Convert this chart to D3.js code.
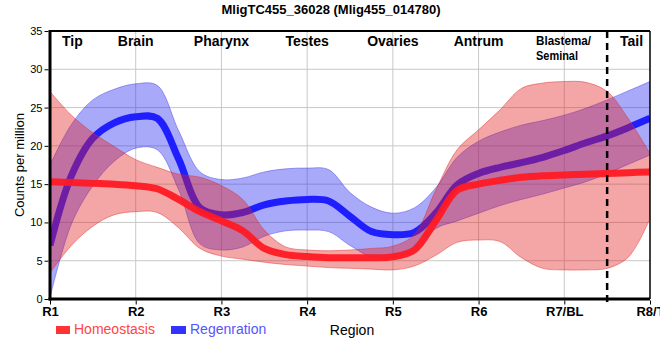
<!DOCTYPE html>
<html><head><meta charset="utf-8">
<script src="https://cdn.jsdelivr.net/npm/d3@7"></script>
<style>
body{margin:0;background:#fff;}
text{font-family:"Liberation Sans Narrow","Arial Narrow","Liberation Sans",Arial,sans-serif;}
</style></head>
<body><svg id="c" width="660" height="360"></svg>
<script>
// region positions (1 = R1 ... 8 = R8/T), sampled every quarter region
const pos = [1,1.25,1.5,1.75,2,2.25,2.5,2.75,3,3.25,3.5,3.75,4,4.25,4.5,4.75,5,5.25,5.5,5.75,6,6.25,6.5,6.75,7,7.25,7.5,7.75,8];
const regionTicks = ["R1","R2","R3","R4","R5","R6","R7/BL","R8/T"];
const yTicks = [0,5,10,15,20,25,30,35];
const tissues = ["Tip","Brain","Pharynx","Testes","Ovaries","Antrum","Blastema/","Tail"];

const homeoMean = [15.3,15.2,15.1,15.0,14.8,14.4,13.0,11.4,10.2,8.9,6.6,5.8,5.55,5.4,5.4,5.4,5.5,6.4,10.2,14.2,15.0,15.5,15.9,16.1,16.2,16.3,16.4,16.5,16.6];
const homeoHi   = [27.1,24.0,21.7,19.9,18.2,17.2,16.3,15.9,14.8,13.0,9.0,6.8,6.4,6.3,6.4,6.6,6.9,8.4,14.2,19.5,22.1,24.7,27.5,28.2,28.4,28.3,27.1,23.5,19.0];
const homeoLo   = [3.4,7.0,9.5,11.0,11.4,11.3,9.3,6.6,5.6,5.2,4.8,4.5,4.3,4.1,4.0,3.9,3.8,4.3,5.7,7.4,7.7,7.5,5.4,4.0,3.8,3.8,4.0,5.5,10.5];

const regenMean = [7.0,16.1,21.0,23.0,23.8,23.6,18.3,11.9,11.0,11.3,12.3,12.8,13.0,12.8,10.8,8.8,8.4,8.7,11.2,14.9,16.4,17.2,17.8,18.5,19.4,20.4,21.3,22.4,23.6];
const regenHi   = [17.5,22.8,26.0,27.4,28.1,27.9,22.0,16.6,15.6,15.8,16.6,17.0,17.1,16.9,13.9,12.0,11.2,11.9,14.5,18.5,20.6,21.8,22.7,23.3,24.0,24.9,26.0,27.2,28.4];
const regenLo   = [0.2,9.8,14.8,18.0,19.7,19.5,14.3,7.2,6.4,6.8,8.2,8.9,9.0,8.8,7.0,5.5,5.4,6.3,9.2,10.2,11.2,12.2,13.0,13.7,14.5,15.3,16.4,17.6,18.8];

const svg = d3.select("#c");
const L=50, R=650, T=31, B=299;
const x = d3.scaleLinear().domain([1,8]).range([L,R]);
const y = d3.scaleLinear().domain([0,35]).range([B,T]);

svg.append("defs").append("clipPath").attr("id","clip").append("rect")
  .attr("x",L).attr("y",T).attr("width",R-L).attr("height",B-T);

// grid
const g = svg.append("g");
g.selectAll("line.h").data(yTicks.slice(1,-1)).join("line")
  .attr("x1",L).attr("x2",R).attr("y1",d=>y(d)).attr("y2",d=>y(d))
  .attr("stroke","#c8c8c8").attr("stroke-width",1);
g.selectAll("line.v").data(d3.range(2,8)).join("line")
  .attr("y1",T).attr("y2",B).attr("x1",d=>x(d)).attr("x2",d=>x(d))
  .attr("stroke","#c8c8c8").attr("stroke-width",1);

const plot = svg.append("g").attr("clip-path","url(#clip)");
const curve = d3.curveCatmullRom.alpha(0.5);
const area = (lo,hi)=>d3.area().x((d,i)=>x(pos[i])).y0((d,i)=>y(lo[i])).y1((d,i)=>y(hi[i])).curve(curve)(pos);
const line = (m)=>d3.line().x((d,i)=>x(pos[i])).y((d,i)=>y(m[i])).curve(curve)(pos);

plot.append("path").attr("d",area(regenLo,regenHi))
  .attr("fill","rgb(40,40,240)").attr("fill-opacity",0.4)
  .attr("stroke","rgb(60,60,230)").attr("stroke-opacity",0.45).attr("stroke-width",1);
plot.append("path").attr("d",line(regenMean))
  .attr("fill","none").attr("stroke","rgb(30,30,255)").attr("stroke-width",7);
plot.append("path").attr("d",area(homeoLo,homeoHi))
  .attr("fill","rgb(227,30,30)").attr("fill-opacity",0.4)
  .attr("stroke","rgb(220,40,40)").attr("stroke-opacity",0.45).attr("stroke-width",1);
plot.append("path").attr("d",line(homeoMean))
  .attr("fill","none").attr("stroke","rgb(255,25,35)").attr("stroke-opacity",0.95).attr("stroke-width",7);

// frame
svg.append("line").attr("x1",L).attr("x2",R).attr("y1",T).attr("y2",T).attr("stroke","#000").attr("stroke-width",2);
svg.append("line").attr("x1",R).attr("x2",R).attr("y1",T).attr("y2",B).attr("stroke","#000").attr("stroke-width",1.5);
svg.append("line").attr("x1",L).attr("x2",L).attr("y1",T-1).attr("y2",B+1.5).attr("stroke","#000").attr("stroke-width",3);
svg.append("line").attr("x1",L-1.5).attr("x2",R).attr("y1",B).attr("y2",B).attr("stroke","#000").attr("stroke-width",3);

// dashed divider
svg.append("line").attr("x1",x(7.5)).attr("x2",x(7.5)).attr("y1",T).attr("y2",B+6)
  .attr("stroke","#000").attr("stroke-width",2.5).attr("stroke-dasharray","7,5");

// y axis
const ya = svg.append("g").attr("transform",`translate(${L-1.5},0)`)
  .call(d3.axisLeft(y).tickValues(yTicks).tickSize(4).tickPadding(2));
ya.select(".domain").remove();
ya.selectAll("line").attr("stroke","#000");
ya.selectAll("text").attr("font-size",11).attr("fill","#000").style("font-family","'Liberation Sans',Arial,sans-serif");

// x axis
const xa = svg.append("g").attr("transform",`translate(0,${B+1.5})`)
  .call(d3.axisBottom(x).tickValues(d3.range(1,9)).tickFormat((d,i)=>regionTicks[i]).tickSize(4).tickPadding(2));
xa.select(".domain").remove();
xa.selectAll("line").attr("stroke","#000");
xa.selectAll("text").attr("font-size",13).attr("font-weight","bold").attr("fill","#000");

// tissue labels
const tl = svg.append("g").attr("font-size",14).attr("font-weight","bold").attr("fill","#000");
tl.append("text").attr("x",x(1)+12).attr("y",46).attr("text-anchor","start").text(tissues[0]);
[1,2,3,4,5].forEach(i=>{
  tl.append("text").attr("x",x(i+1)).attr("y",46).attr("text-anchor","middle").text(tissues[i]);
});
tl.append("text").attr("x",536).attr("y",45).attr("text-anchor","start").attr("font-size",13)
  .attr("textLength",55).attr("lengthAdjust","spacingAndGlyphs").text(tissues[6]);
tl.append("text").attr("x",536).attr("y",60).attr("text-anchor","start").attr("font-size",13)
  .attr("textLength",42).attr("lengthAdjust","spacingAndGlyphs").text("Seminal");
tl.append("text").attr("x",(x(7.5)+x(8))/2+3).attr("y",46).attr("text-anchor","middle").text(tissues[7]);

// title
svg.append("text").attr("x",331).attr("y",14).attr("text-anchor","middle")
  .attr("font-size",13).attr("font-weight","bold").text("MligTC455_36028 (Mlig455_014780)");

// y title
svg.append("text").attr("transform",`translate(24,${(T+B)/2}) rotate(-90)`).attr("text-anchor","middle")
  .attr("font-size",13).style("font-family","'Liberation Sans',Arial,sans-serif").text("Counts per million");

// x title
svg.append("text").attr("x",352).attr("y",335).attr("text-anchor","middle").attr("font-size",14).text("Region");

// legend
const leg = svg.append("g");
leg.append("rect").attr("x",56).attr("y",326).attr("width",14).attr("height",8).attr("fill","#ff3333");
leg.append("text").attr("x",74).attr("y",334).attr("font-size",14).attr("fill","#ff4444").text("Homeostasis");
leg.append("rect").attr("x",171).attr("y",326).attr("width",15).attr("height",8).attr("fill","#3333ff");
leg.append("text").attr("x",190).attr("y",334).attr("font-size",14).attr("fill","#5555ff").text("Regenration");
</script></body></html>
